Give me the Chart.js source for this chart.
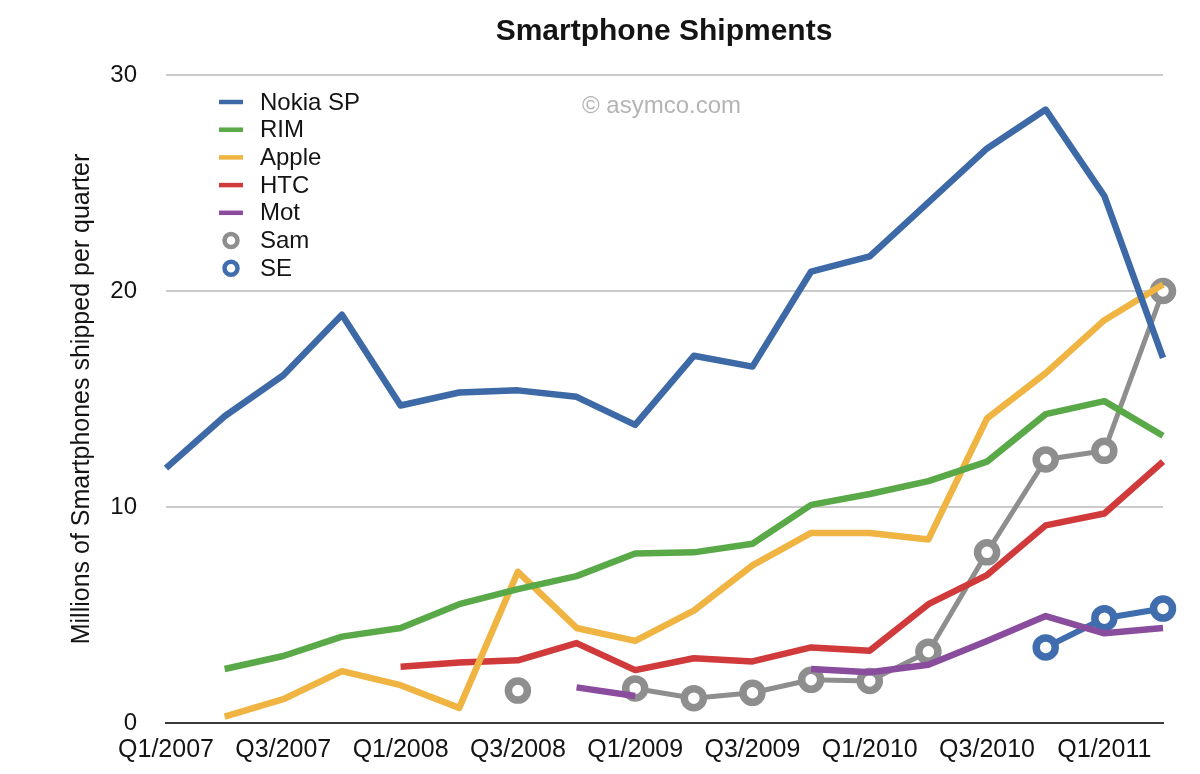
<!DOCTYPE html>
<html>
<head>
<meta charset="utf-8">
<script src="https://cdn.jsdelivr.net/npm/chart.js@4/dist/chart.umd.min.js"></script>
<style>
  html, body { margin: 0; padding: 0; background: #fff; }
  #wrap { width: 1200px; height: 774px; position: relative; }
</style>
</head>
<body>
<div id="wrap"><canvas id="chart" width="1200" height="774"></canvas></div>
<script>
// quarters on the x axis
const quarters = ["Q1/2007", "Q2/2007", "Q3/2007", "Q4/2007", "Q1/2008", "Q2/2008", "Q3/2008", "Q4/2008",
    "Q1/2009", "Q2/2009", "Q3/2009", "Q4/2009", "Q1/2010", "Q2/2010", "Q3/2010", "Q4/2010", "Q1/2011", "Q2/2011"];
const xTickLabels = ["Q1/2007", "Q3/2007", "Q1/2008", "Q3/2008", "Q1/2009", "Q3/2009", "Q1/2010", "Q3/2010", "Q1/2011"];
const yTicks = [0, 10, 20, 30];

// millions of units per quarter
const nokia = [11.8, 14.2, 16.1, 18.9, 14.7, 15.3, 15.4, 15.1, 13.8, 17.0, 16.5, 20.9, 21.6, 24.1, 26.6, 28.4, 24.4, 16.9];
const rim = [null, 2.5, 3.1, 4.0, 4.4, 5.5, 6.2, 6.8, 7.85, 7.9, 8.3, 10.1, 10.6, 11.2, 12.1, 14.3, 14.9, 13.3];
const apple = [null, 0.3, 1.1, 2.4, 1.75, 0.7, 7.0, 4.4, 3.8, 5.2, 7.3, 8.8, 8.8, 8.5, 14.1, 16.2, 18.65, 20.3];
const htc = [null, null, null, null, 2.6, 2.8, 2.9, 3.7, 2.45, 3.0, 2.85, 3.5, 3.35, 5.5, 6.85, 9.15, 9.7, 12.1];
const mot = [null, null, null, null, null, null, null, 1.65, 1.25, null, null, 2.5, 2.35, 2.7, 3.8, 4.95, 4.15, 4.4];
const sam = [null, null, null, null, null, null, 1.5, null, 1.6, 1.15, 1.4, 2.0, 1.95, 3.3, 7.9, 12.2, 12.6, 20.0];
const se = [null, null, null, null, null, null, null, null, null, null, null, null, null, null, null, 3.5, 4.85, 5.3];

const FONT = "'Liberation Sans', Arial, Helvetica, sans-serif";
const TEXT = "#141414";

function lineSet(label, data, color) {
    return { label: label, data: data, borderColor: color, backgroundColor: color,
        borderWidth: 6.5, pointRadius: 0, spanGaps: false };
}
function ringSet(label, data, color, width) {
    return { label: label, data: data, borderColor: color, backgroundColor: color,
        borderWidth: width, pointRadius: 9.5, pointBorderWidth: 7.5,
        pointBackgroundColor: "#fff", pointBorderColor: color, spanGaps: false };
}

// legend, title and watermark drawn straight on the canvas
const decorations = {
    id: "decorations",
    afterDraw(chart) {
        const ctx = chart.ctx;
        ctx.save();
        ctx.fillStyle = TEXT;
        ctx.font = "bold 30px " + FONT;
        ctx.textAlign = "center";
        ctx.textBaseline = "alphabetic";
        ctx.fillText("Smartphone Shipments", 664, 40);

        ctx.fillStyle = "#b4b4b4";
        ctx.font = "24px " + FONT;
        ctx.textAlign = "left";
        ctx.fillText("\u00a9 asymco.com", 582, 113);

        ctx.font = "24px " + FONT;
        ctx.textBaseline = "middle";
        chart.data.datasets.forEach((ds, k) => {
            const y = 102 + k * 27.7;
            ctx.strokeStyle = ds.borderColor;
            if (ds.pointRadius > 0) {
                ctx.lineWidth = 4.5;
                ctx.beginPath();
                ctx.arc(231, y, 6.5, 0, Math.PI * 2);
                ctx.stroke();
            } else {
                ctx.lineWidth = 4.5;
                ctx.beginPath();
                ctx.moveTo(219, y);
                ctx.lineTo(243, y);
                ctx.stroke();
            }
            ctx.fillStyle = TEXT;
            ctx.fillText(ds.label, 260, y + 1);
        });
        ctx.restore();
    }
};

new Chart(document.getElementById("chart"), {
    type: "line",
    data: {
        labels: quarters,
        datasets: [
            lineSet("Nokia SP", nokia, "#3d69a6"),
            lineSet("RIM", rim, "#5aa948"),
            lineSet("Apple", apple, "#efb441"),
            lineSet("HTC", htc, "#d13a3a"),
            lineSet("Mot", mot, "#8a4d9d"),
            ringSet("Sam", sam, "#8e8e8e", 5),
            ringSet("SE", se, "#3f6dae", 6)
        ]
    },
    options: {
        responsive: false,
        animation: false,
        events: [],
        layout: { padding: { top: 75, right: 37, bottom: 0, left: 0 } },
        plugins: { legend: { display: false }, title: { display: false }, tooltip: { enabled: false } },
        elements: { line: { tension: 0, borderCapStyle: "butt", borderJoinStyle: "round" } },
        scales: {
            x: {
                offset: false,
                grid: { display: false, drawTicks: false },
                border: { display: true, color: "#3a3a3a", width: 2 },
                ticks: {
                    autoSkip: false, maxRotation: 0, padding: 12,
                    color: TEXT, font: { family: FONT, size: 25 },
                    callback: function(value) {
                        const q = quarters[value];
                        return xTickLabels.includes(q) ? q : "";
                    }
                },
                afterFit: function(scale) { scale.height = 51; }
            },
            y: {
                min: 0, max: 30,
                afterBuildTicks: function(scale) { scale.ticks = yTicks.map(v => ({ value: v })); },
                grid: {
                    drawTicks: false, lineWidth: 2,
                    color: ctx => ctx.tick && ctx.tick.value === 0 ? "rgba(0,0,0,0)" : "#cbcbcb"
                },
                border: { display: false },
                ticks: { padding: 29, color: TEXT, font: { family: FONT, size: 24 } },
                title: {
                    display: true, text: "Millions of Smartphones shipped per quarter",
                    color: TEXT, font: { family: FONT, size: 25 }, padding: { top: 67, bottom: 0 }
                },
                afterFit: function(scale) { scale.width = 166; }
            }
        }
    },
    plugins: [decorations]
});
</script>
</body>
</html>
